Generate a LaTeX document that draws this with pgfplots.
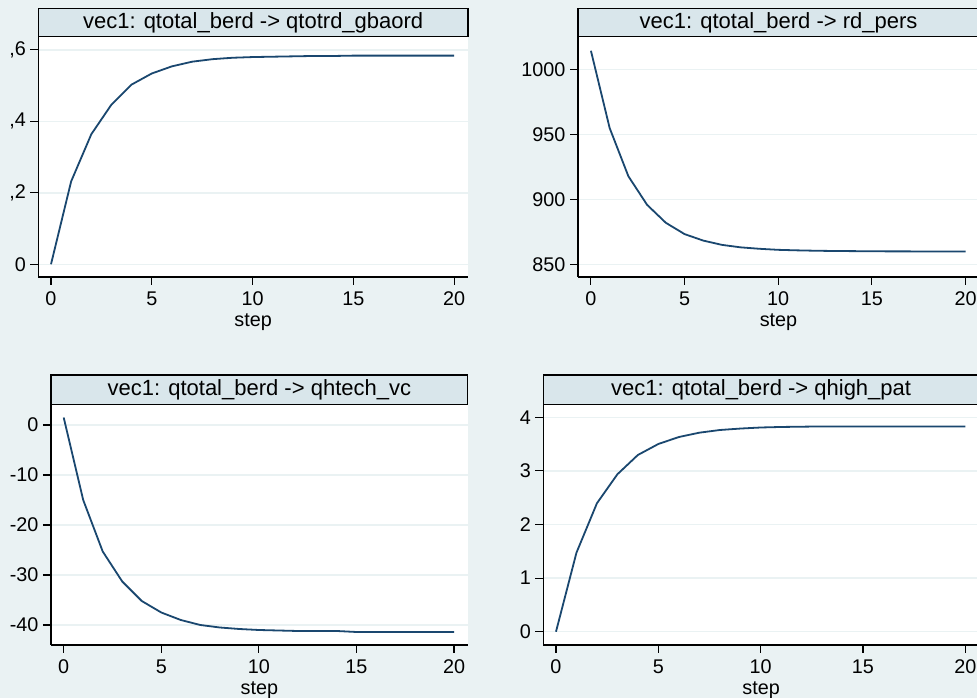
\documentclass[border=0pt]{standalone}
\usepackage{pgfplots}
\pgfplotsset{compat=1.18}
\usepackage{fontspec}
\setmainfont{Liberation Sans}

\definecolor{bgcol}{RGB}{234,242,243}
\definecolor{titlecol}{RGB}{217,230,235}
\definecolor{gridcol}{RGB}{234,242,243}
\definecolor{stnavy}{RGB}{26,71,111}

\pgfplotsset{
  irfpanel/.style={
    scale only axis,
    anchor=south west,
    axis lines*=left,
    axis line style={black, line width=1.1pt},
    axis background/.style={fill=white},
    tick align=outside,
    major tick length=8pt,
    tick style={black, line width=1.1pt},
    ymajorgrids=true,
    grid style={gridcol, line width=1.4pt},
    xtick={0,5,10,15,20},
    tick label style={font=\fontsize{19.8}{23}\selectfont},
    /pgf/number format/assume math mode=true,
    /pgf/number format/set thousands separator={},
    yticklabel style={xshift=-1pt},
    xticklabel style={yshift=-3pt},
    xlabel={step},
    xlabel style={font=\fontsize{19.8}{23}\selectfont, yshift=-1.5pt},
    clip=false,
  },
  irfline/.style={stnavy, line width=1.8pt, no markers},
}

\newcommand{\titlebox}[5]{%
  \draw[fill=titlecol, line width=1.1pt] (#1pt,#2pt) rectangle (#3pt,#4pt);
  \node[font=\fontsize{22}{25}\selectfont, anchor=center] at ({(#1+#3)/2*1pt},{(#2+#4)/2*1pt}) {#5};
}

\begin{document}
\begin{tikzpicture}
\useasboundingbox (0,0) rectangle (977pt,698pt);
\clip (0,0) rectangle (977pt,698pt);
\fill[bgcol] (0,0) rectangle (977pt,698pt);

% top left
\begin{axis}[irfpanel, at={(38.3pt,421pt)}, width=429.7pt, height=240.3pt,
  xmin=-0.63, xmax=20.69, ymin=-0.0356, ymax=0.637,
  ytick={0,0.2,0.4,0.6}, yticklabels={0,{,2},{,4},{,6}}]
\addplot[irfline] coordinates {
(0,0) (1,0.232) (2,0.364) (3,0.447) (4,0.503) (5,0.534) (6,0.554) (7,0.567)
(8,0.574) (9,0.578) (10,0.580) (11,0.581) (12,0.582) (13,0.583) (14,0.583)
(15,0.584) (16,0.584) (17,0.584) (18,0.584) (19,0.584) (20,0.584)};
\end{axis}
\titlebox{38.3}{661.3}{468}{689.7}{vec1: qtotal\_berd -> qtotrd\_gbaord}

% top right
\begin{axis}[irfpanel, at={(578pt,421pt)}, width=401pt, height=240.3pt,
  xmin=-0.69, xmax=20.72, ymin=840.5, ymax=1025.4,
  ytick={850,900,950,1000}]
\addplot[irfline] coordinates {
(0,1014.6) (1,955.1) (2,918.0) (3,896.0) (4,882.2) (5,873.5) (6,868.5) (7,865.2)
(8,863.3) (9,862.2) (10,861.4) (11,861.0) (12,860.7) (13,860.5) (14,860.4)
(15,860.3) (16,860.2) (17,860.2) (18,860.1) (19,860.1) (20,860.1)};
\end{axis}
\titlebox{578}{661.3}{979}{689.7}{vec1: qtotal\_berd -> rd\_pers}

% bottom left
\begin{axis}[irfpanel, at={(51pt,53pt)}, width=416.7pt, height=240.7pt,
  xmin=-0.65, xmax=20.7, ymin=-44, ymax=4.14,
  ytick={-40,-30,-20,-10,0}]
\addplot[irfline] coordinates {
(0,1.5) (1,-15.0) (2,-25.3) (3,-31.3) (4,-35.2) (5,-37.5) (6,-39.0) (7,-40.0)
(8,-40.5) (9,-40.8) (10,-41.0) (11,-41.1) (12,-41.2) (13,-41.2) (14,-41.2)
(15,-41.4) (16,-41.4) (17,-41.4) (18,-41.4) (19,-41.4) (20,-41.4)};
\end{axis}
\titlebox{51}{293.7}{467.7}{323}{vec1: qtotal\_berd -> qhtech\_vc}

% bottom right
\begin{axis}[irfpanel, at={(543.3pt,53pt)}, width=435.7pt, height=240.7pt,
  xmin=-0.62, xmax=20.67, ymin=-0.248, ymax=4.243,
  ytick={0,1,2,3,4}]
\addplot[irfline] coordinates {
(0,0) (1,1.474) (2,2.396) (3,2.937) (4,3.297) (5,3.502) (6,3.632) (7,3.713)
(8,3.763) (9,3.790) (10,3.810) (11,3.820) (12,3.825) (13,3.830) (14,3.830)
(15,3.830) (16,3.830) (17,3.830) (18,3.830) (19,3.830) (20,3.830)};
\end{axis}
\titlebox{543.3}{293.7}{979}{323}{vec1: qtotal\_berd -> qhigh\_pat}
\end{tikzpicture}
\end{document}
